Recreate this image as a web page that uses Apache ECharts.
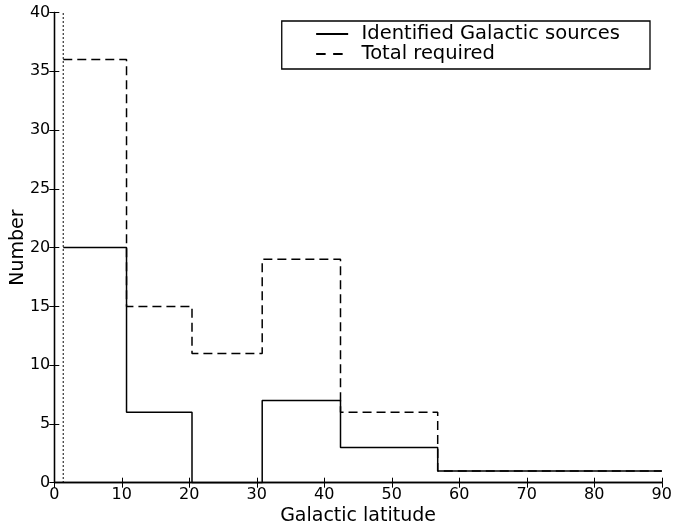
<!DOCTYPE html>
<html>
<head>
<meta charset="utf-8">
<script src="https://cdn.jsdelivr.net/npm/echarts@6/dist/echarts.min.js"></script>
<style>
  html, body { margin: 0; padding: 0; background: #fff; }
  #chart { width: 674px; height: 524px; }
</style>
</head>
<body>
<div id="chart"></div>
<script>
// Bin edges in Galactic latitude (deg) and counts per bin
const binEdges = [1.33, 10.7, 20.4, 30.8, 42.4, 56.8, 90];
const identifiedCounts = [20, 6, 0, 7, 3, 1];
const requiredCounts = [36, 15, 11, 19, 6, 1];
const latitudeLimit = 1.33;   // vertical dotted marker
const xTicks = [0, 10, 20, 30, 40, 50, 60, 70, 80, 90];
const yTicks = [0, 5, 10, 15, 20, 25, 30, 35, 40];

// Turn edges + counts into a step outline (no left/right drop to zero)
function stepOutline(edges, counts) {
  const pts = [];
  for (let i = 0; i < counts.length; i++) {
    pts.push([edges[i], counts[i]]);
    pts.push([edges[i + 1], counts[i]]);
  }
  return pts;
}

const FONT = 'DejaVu Sans';
const chart = echarts.init(document.getElementById('chart'), null, { renderer: 'canvas' });

const axisLine = { show: true, lineStyle: { color: '#000', width: 1.3 } };
const axisTick = { show: true, inside: true, length: 5, lineStyle: { color: '#000', width: 1 } };

chart.setOption({
  animation: false,
  backgroundColor: '#fff',
  grid: { left: 54.3, right: 12.2, top: 12.5, bottom: 41.3, containLabel: false, outerBoundsMode: 'none' },
  legend: {
    data: [
      { name: 'Identified Galactic sources' },
      { name: 'Total required', lineStyle: { type: [9.5, 7.5] } }
    ],
    orient: 'vertical',
    right: 24,
    top: 21,
    padding: [3, 30, 5, 33.4],
    itemGap: 0,
    itemWidth: 32,
    itemHeight: 20,
    itemStyle: { opacity: 0 },
    borderColor: '#000',
    borderWidth: 1.3,
    borderRadius: 0,
    textStyle: { fontFamily: FONT, fontSize: 19.5, color: '#000', lineHeight: 20, padding: [0, 0, 0, 8.4] }
  },
  xAxis: [
    {
      type: 'value', min: 0, max: 90, interval: 10,
      axisLine, axisTick, splitLine: { show: false },
      axisLabel: {
        fontFamily: FONT, fontSize: 16, color: '#000', margin: 4,
        formatter: v => xTicks.includes(v) ? String(v) : ''
      },
      name: 'Galactic latitude', nameLocation: 'middle', nameGap: 24, nameMoveOverlap: false,
      nameTextStyle: { fontFamily: FONT, fontSize: 19, color: '#000' }
    },
    {
      type: 'value', min: 0, max: 90, interval: 10, position: 'top',
      axisLine, axisTick, axisLabel: { show: false }, splitLine: { show: false }
    }
  ],
  yAxis: [
    {
      type: 'value', min: 0, max: 40, interval: 5,
      axisLine, axisTick, splitLine: { show: false },
      axisLabel: {
        fontFamily: FONT, fontSize: 16, color: '#000', margin: 4,
        formatter: v => yTicks.includes(v) ? String(v) : ''
      },
      name: 'Number', nameLocation: 'middle', nameGap: 27, nameRotate: 90, nameMoveOverlap: false,
      nameTextStyle: { fontFamily: FONT, fontSize: 19, color: '#000' }
    },
    {
      type: 'value', min: 0, max: 40, interval: 5, position: 'right',
      axisLine, axisTick, axisLabel: { show: false }, splitLine: { show: false }
    }
  ],
  series: [
    {
      name: 'Identified Galactic sources',
      type: 'line',
      data: stepOutline(binEdges, identifiedCounts),
      symbol: 'none',
      color: '#000',
      lineStyle: { color: '#000', width: 1.5, type: 'solid' },
      z: 3
    },
    {
      name: 'Total required',
      type: 'line',
      data: stepOutline(binEdges, requiredCounts),
      symbol: 'none',
      color: '#000',
      lineStyle: { color: '#000', width: 1.5, type: [9, 5] },
      z: 4
    },
    {
      name: 'limit',
      type: 'line',
      data: [[latitudeLimit, 0], [latitudeLimit, 40]],
      symbol: 'none',
      lineStyle: { color: '#000', width: 1.3, type: [1.5, 2.5] },
      z: 5
    }
  ]
});
</script>
</body>
</html>
